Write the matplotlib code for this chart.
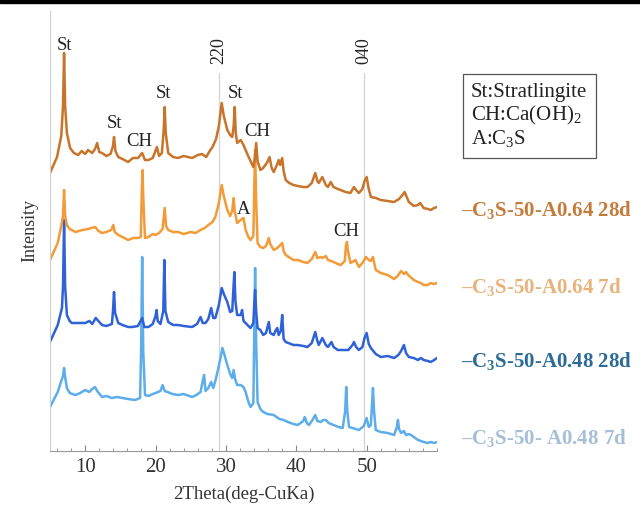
import numpy as np
import matplotlib
matplotlib.use('Agg')
import matplotlib.pyplot as plt
from matplotlib.patches import Rectangle
from matplotlib.ticker import MultipleLocator

plt.rcParams['font.family'] = ['Liberation Serif', 'DejaVu Serif']
plt.rcParams['mathtext.fontset'] = 'custom'
plt.rcParams['mathtext.rm'] = 'Liberation Serif'
plt.rcParams['mathtext.bf'] = 'Liberation Serif:bold'
plt.rcParams['mathtext.it'] = 'Liberation Serif:italic'

# XRD patterns, stacked as drawn (2theta in deg, intensity in a.u. incl. offset)
tt_a064_28d = [5.0, 6.0, 6.6, 6.85, 7.0, 7.15, 7.4, 7.85, 8.4, 9.0, 9.5, 10.0, 10.4, 11.0, 11.4, 11.7, 12.0,
               12.4, 13.0, 13.6, 13.95, 14.1, 14.3, 14.7, 15.3, 16.1, 16.8, 17.5, 18.1, 18.5, 19.0, 19.6,
               20.2, 20.5, 20.9, 21.15, 21.3, 21.45, 21.8, 22.5, 23.2, 24.0, 25.2, 26.0, 26.6, 27.2, 27.7,
               28.1, 28.6, 29.0, 29.4, 29.7, 30.2, 30.6, 30.9, 31.1, 31.25, 31.4, 31.6, 32.1, 32.5, 33.1,
               33.5, 33.9, 34.1, 34.3, 34.5, 34.9, 35.3, 35.9, 36.2, 36.5, 36.8, 37.3, 37.5, 37.7, 38.0,
               38.2, 38.5, 39.0, 39.6, 40.2, 41.0, 41.6, 42.2, 42.7, 43.0, 43.2, 43.7, 44.2, 44.5, 44.9,
               45.3, 45.9, 46.3, 47.0, 47.7, 48.2, 48.5, 48.9, 49.4, 49.7, 50.0, 50.3, 50.6, 51.3, 52.0,
               53.0, 53.9, 54.6, 55.1, 55.4, 55.7, 56.0, 56.7, 57.3, 57.6, 58.1, 58.7, 59.1, 59.6, 60.0]
in_a064_28d = [278, 294, 315, 345, 398, 345, 318, 303, 298, 296, 300, 297, 301, 298, 302, 308, 299,
               298, 295, 297, 305, 314, 300, 294, 292, 289, 293, 293, 298, 291, 291, 293,
               304, 295, 298, 320, 344, 318, 298, 294, 293, 295, 293, 296, 297, 294, 300,
               304, 312, 325, 348, 335, 321, 316, 314, 325, 344, 318, 308, 311, 306, 296,
               290, 284, 292, 308, 290, 281, 283, 289, 294, 283, 279, 287, 291, 286, 293,
               280, 271, 268, 266, 265, 264, 264, 268, 278, 270, 268, 274, 266, 264, 269,
               264, 262, 261, 259, 258, 264, 261, 258, 262, 270, 274, 262, 254, 253, 251,
               250, 249, 252, 256, 259, 254, 249, 245, 246, 248, 243, 242, 241, 243, 244]

tt_a064_7d = [5.0, 6.1, 6.6, 6.85, 7.0, 7.15, 7.4, 7.8, 8.1, 8.6, 9.6, 10.4, 11.4, 11.9, 12.4, 13.0, 13.7,
              14.0, 14.2, 14.7, 15.3, 16.1, 16.8, 17.5, 17.9, 18.05, 18.15, 18.25, 18.5, 19.0, 19.6, 20.0,
              20.5, 21.0, 21.3, 21.5, 21.8, 22.5, 23.2, 24.0, 25.0, 25.7, 26.4, 27.0, 27.5, 28.1, 28.5,
              29.0, 29.4, 29.7, 30.2, 30.6, 30.9, 31.1, 31.25, 31.6, 32.1, 32.5, 32.8, 33.2, 33.5, 33.9,
              34.05, 34.15, 34.3, 34.5, 34.9, 35.3, 35.7, 36.1, 36.3, 36.8, 37.3, 37.6, 38.0, 38.2, 38.5,
              39.6, 40.2, 41.0, 41.6, 42.2, 42.7, 43.0, 43.5, 43.7, 44.2, 44.5, 45.3, 45.9, 46.3, 46.9,
              47.05, 47.2, 47.35, 47.7, 48.2, 48.4, 48.9, 49.4, 49.9, 50.3, 50.6, 50.9, 51.3, 52.0, 53.0,
              53.9, 54.4, 54.9, 55.3, 55.6, 55.9, 56.7, 57.3, 57.7, 58.1, 58.7, 59.1, 59.6, 60.0]
in_a064_7d = [191, 208, 225, 235, 261, 235, 226, 222, 221, 219, 221, 222, 224, 220, 218, 219, 221,
              226, 219, 216, 214, 211, 213, 213, 214, 260, 281, 255, 213, 214, 217, 216,
              218, 222, 243, 225, 221, 219, 219, 217, 219, 218, 221, 223, 226, 229, 234,
              248, 266, 255, 241, 235, 240, 253, 240, 228, 231, 233, 221, 214, 211, 215,
              270, 301, 250, 208, 204, 203, 205, 213, 207, 201, 203, 205, 208, 200, 196,
              191, 191, 189, 188, 192, 199, 193, 194, 193, 195, 191, 189, 187, 186, 190,
              205, 209, 200, 188, 190, 191, 184, 188, 194, 191, 190, 194, 181, 178, 176,
              172, 175, 180, 177, 179, 176, 171, 169, 168, 166, 166, 168, 167, 168]

tt_a048_28d = [5.0, 6.1, 6.7, 6.85, 7.0, 7.15, 7.4, 7.8, 8.1, 9.0, 10.0, 10.6, 11.0, 11.5, 12.0, 12.4, 13.0,
               13.8, 13.95, 14.1, 14.25, 14.7, 15.3, 16.1, 16.7, 17.5, 18.1, 18.4, 19.0, 19.6, 20.0, 20.15,
               20.3, 20.7, 21.1, 21.25, 21.4, 21.8, 22.5, 23.2, 24.0, 25.2, 25.9, 26.4, 26.7, 27.1, 27.5,
               27.9, 28.2, 28.5, 29.0, 29.4, 29.7, 30.2, 30.6, 30.9, 31.05, 31.2, 31.35, 31.6, 32.1, 32.3,
               32.5, 32.8, 33.2, 33.5, 33.9, 34.05, 34.15, 34.3, 34.5, 34.9, 35.3, 35.7, 36.1, 36.3, 36.8,
               37.1, 37.3, 37.5, 37.8, 38.0, 38.2, 38.5, 39.6, 40.2, 41.0, 41.6, 42.2, 42.7, 43.0, 43.2,
               43.7, 44.2, 44.5, 45.0, 45.3, 45.9, 46.6, 47.4, 48.0, 48.2, 48.5, 48.9, 49.4, 49.7, 50.0,
               50.3, 50.6, 51.3, 52.0, 53.0, 53.9, 54.5, 54.9, 55.3, 55.6, 56.0, 56.7, 57.3, 57.7, 58.1,
               58.7, 59.1, 59.6, 60.0]
in_a048_28d = [109, 126, 143, 165, 231, 165, 136, 130, 128, 128, 128, 130, 127, 133, 129, 126, 125,
               127, 140, 159, 138, 128, 126, 124, 124, 125, 133, 124, 124, 127, 135, 141,
               130, 127, 140, 191, 140, 129, 126, 126, 125, 124, 127, 134, 128, 128, 132,
               143, 133, 133, 146, 163, 157, 149, 139, 140, 160, 179, 150, 136, 136, 141,
               130, 128, 125, 123, 128, 150, 161, 140, 123, 121, 116, 118, 129, 118, 116,
               121, 123, 116, 120, 136, 112, 109, 106, 106, 105, 104, 108, 119, 110, 106,
               113, 106, 104, 109, 104, 101, 101, 101, 106, 109, 104, 101, 104, 113, 118,
               107, 103, 97, 94, 95, 93, 96, 100, 106, 98, 94, 93, 91, 93, 91,
               90, 89, 91, 93]

tt_a048_7d = [5.0, 6.1, 6.6, 6.85, 7.0, 7.15, 7.4, 7.8, 8.6, 9.3, 10.0, 10.6, 11.0, 11.4, 11.7, 12.4, 13.0,
              13.8, 14.5, 15.3, 16.1, 17.1, 17.8, 17.95, 18.1, 18.25, 18.5, 19.0, 19.6, 20.0, 20.7, 21.0,
              21.3, 21.7, 22.4, 23.2, 24.0, 25.2, 25.8, 26.4, 26.7, 26.9, 27.1, 27.5, 27.9, 28.2, 28.5,
              28.8, 29.2, 29.5, 29.8, 30.2, 30.6, 30.9, 31.1, 31.3, 31.6, 32.1, 32.5, 32.8, 33.2, 33.5,
              33.9, 34.05, 34.15, 34.3, 34.5, 34.9, 35.3, 35.9, 36.8, 37.6, 38.2, 38.8, 39.6, 40.2, 41.0,
              41.2, 41.5, 41.8, 42.3, 42.7, 43.0, 43.5, 43.8, 44.2, 44.6, 45.3, 46.0, 46.6, 46.95, 47.1,
              47.25, 47.5, 48.0, 48.9, 49.6, 50.0, 50.3, 50.6, 50.75, 50.9, 51.05, 51.3, 52.0, 53.0, 53.9,
              54.3, 54.45, 54.6, 54.9, 55.3, 55.6, 56.0, 56.3, 56.7, 57.3, 58.1, 58.7, 59.1, 59.6, 60.0]
in_a048_7d = [44, 59, 70, 75, 83, 74, 63, 58, 56, 58, 61, 59, 62, 64, 60, 54, 55,
              53, 54, 53, 52, 51, 53, 100, 194, 100, 56, 55, 57, 58, 60, 66,
              60, 59, 57, 56, 57, 54, 56, 59, 70, 76, 60, 63, 69, 63, 70,
              79, 92, 103, 96, 86, 77, 73, 81, 72, 66, 66, 64, 59, 49, 44,
              48, 130, 183, 110, 49, 42, 39, 37, 36, 32, 31, 29, 27, 26, 30,
              34, 28, 26, 31, 36, 30, 29, 31, 31, 28, 26, 24, 23, 40, 64,
              40, 24, 23, 21, 25, 33, 24, 26, 45, 63, 40, 21, 19, 18, 16,
              24, 31, 22, 18, 20, 16, 17, 16, 14, 11, 9, 8, 9, 8, 9]

series_labels = [r'–C$_\mathbf{3}$S-50-A0.64 28d', r'–C$_\mathbf{3}$S-50-A0.64 7d',
                 r'–C$_\mathbf{3}$S-50-A0.48 28d', r'–C$_\mathbf{3}$S-50- A0.48 7d']
ref_lines = [29.0, 49.6]
ref_names = ['220', '040']
phase_text = 'St:Stratlingite\nCH:Ca(OH)$_2$\nA:C$_3$S'

line_colors = ['#c8742a', '#f29b38', '#2e62d6', '#5cadea']
text_colors = ['#c47c3a', '#e9b27a', '#2d6b96', '#a6bfd6']

fig = plt.figure(figsize=(6.4, 5.13), dpi=100)
ax = fig.add_axes([50 / 640, 62 / 513, 387 / 640, 440 / 513])

xs = [tt_a048_7d, tt_a048_28d, tt_a064_7d, tt_a064_28d]
ys = [in_a048_7d, in_a048_28d, in_a064_7d, in_a064_28d]
cols = line_colors[::-1]
for x, y, c in zip(xs, ys, cols):
    ax.plot(x, y, color=c, lw=1.8, solid_joinstyle='round')

for xv, name in zip(ref_lines, ref_names):
    ax.plot([xv, xv], [0, 378], color='#d4d4d4', lw=0.9, zorder=0)
    ax.text(xv, 400, name, rotation=90, ha='center', va='center', fontsize=13, color='#222222')

# peak labels
peak_labels = [(7.0, 406, 'St'), (14.1, 328, 'St'), (17.7, 309, 'CH'), (21.2, 358, 'St'),
               (31.3, 358, 'St'), (34.4, 320, 'CH'), (32.5, 241, 'A'), (47.1, 219, 'CH')]
for px, py, s in peak_labels:
    ax.text(px, py, s, ha='center', va='center', fontsize=13.5, color='#222222')

ax.set_xlim(5, 60)
ax.set_ylim(0, 440)
ax.set_yticks([])
ax.xaxis.set_minor_locator(MultipleLocator(2))
ax.set_xticks([10, 20, 30, 40, 50])
ax.tick_params(axis='x', which='major', direction='in', length=4, color='#888888',
               labelsize=15, labelcolor='#333333', pad=5)
ax.tick_params(axis='x', which='minor', direction='in', length=2.5, color='#888888')
for sp in ['top', 'right']:
    ax.spines[sp].set_visible(False)
ax.spines['left'].set_color('#cfcfcf')
ax.spines['bottom'].set_color('#999999')
ax.set_xlabel('2Theta(deg-CuKa)', fontsize=13.5, color='#333333', labelpad=6)
ax.set_ylabel('Intensity', fontsize=13, color='#333333', labelpad=8)

# phase legend box
fig.text(471 / 640, 1 - 116 / 513, phase_text, fontsize=15, color='#222222', va='center', ha='left',
         linespacing=1.12,
         bbox=dict(boxstyle='square,pad=0.4', fc='white', ec='#555555', lw=0.9))

label_y = [210, 287, 361, 438]
for lab, yy, c in zip(series_labels, label_y, text_colors):
    fig.text(461 / 640, 1 - yy / 513, lab, fontsize=15, fontweight='bold', color=c, va='center', ha='left')

fig.add_artist(Rectangle((0, 1 - 3 / 513), 1, 3 / 513, transform=fig.transFigure, color='black'))

fig.savefig('out.png', dpi=100)
